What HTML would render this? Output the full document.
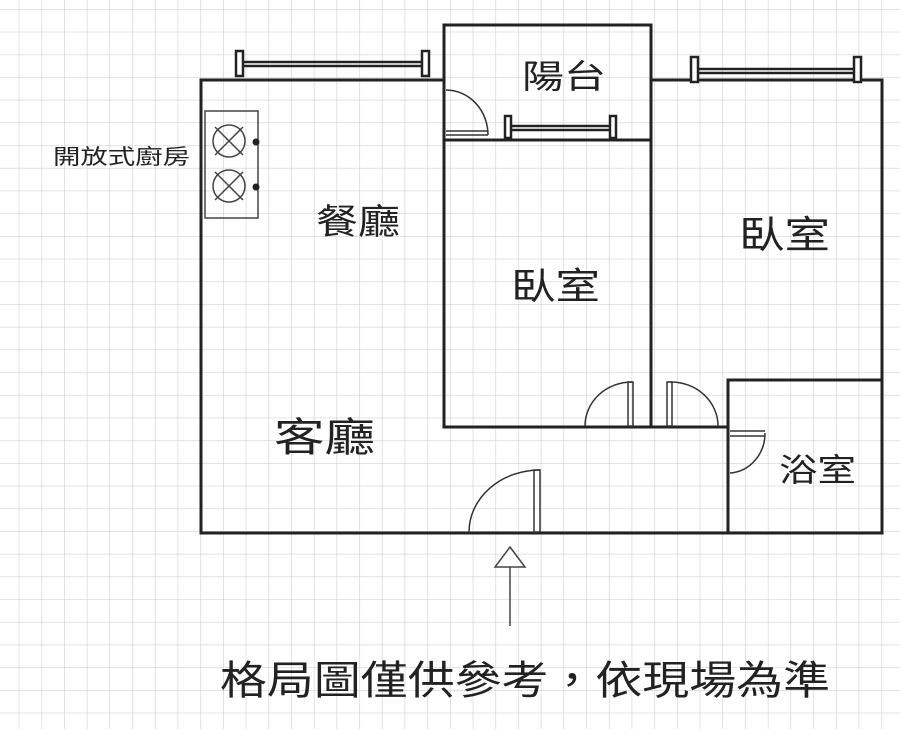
<!DOCTYPE html>
<html><head><meta charset="utf-8"><style>
html,body{margin:0;padding:0;background:#fff;}
svg{display:block;}
text{font-family:"Liberation Sans","Noto Sans CJK TC",sans-serif;fill:#222;}
</style></head><body>
<svg width="900" height="729" viewBox="0 0 900 729" xmlns="http://www.w3.org/2000/svg">
<defs>
<pattern id="g" x="18.7" y="9" width="22.7" height="22.7" patternUnits="userSpaceOnUse">
<path d="M0 0H22.7M0 0V22.7" stroke="#d2d2d2" stroke-width="1.3" fill="none"/>
</pattern>
</defs>
<rect width="900" height="729" fill="#fff"/>
<rect width="900" height="729" fill="url(#g)"/>
<g fill="none" stroke="#222" stroke-width="3" stroke-linecap="square">
<path d="M201 533V80H444"/>
<path d="M444 427V25H651V427"/>
<path d="M444 140H651"/>
<path d="M651 80H882V533H201"/>
<path d="M444 427H728"/>
<path d="M728 533V380H882"/>
</g>
<g fill="#fff" stroke="#222" stroke-width="2.5">
<path d="M243 62H422M243 66H422" fill="none"/>
<rect x="236" y="51" width="7" height="25"/>
<rect x="422" y="51" width="7" height="25"/>
<path d="M698 69H854M698 73H854" fill="none"/>
<rect x="691" y="57" width="7" height="25"/>
<rect x="854" y="57" width="7" height="25"/>
<path d="M511 126H610M511 130H610" fill="none"/>
<rect x="505" y="116" width="6" height="22"/>
<rect x="610" y="116" width="6" height="22"/>
</g>
<g fill="none" stroke="#333" stroke-width="1.5">
<path d="M446 90A42 45 0 0 1 488 135"/>
<path d="M446 135H488M446 131H488"/>
<path d="M585 426A47 44 0 0 1 632 382"/>
<rect x="628" y="382" width="5" height="44"/>
<path d="M670 382A47 44 0 0 1 718 426"/>
<rect x="667" y="382" width="5" height="44"/>
<path d="M730 431H765M730 436H765"/>
<path d="M765 433A37 40 0 0 1 730 473"/>
<path d="M469 532A71 62 0 0 1 540 470"/>
<rect x="534" y="470" width="6" height="62"/>
</g>
<g fill="none" stroke="#444" stroke-width="1.5">
<rect x="205" y="111" width="53" height="107"/>
<circle cx="229" cy="141" r="16"/>
<circle cx="229" cy="186" r="16"/>
<path d="M215 127L243 155M243 127L215 155M215 172L243 200M243 172L215 200"/>
</g>
<circle cx="256" cy="142" r="3.5" fill="#222"/>
<circle cx="256" cy="187" r="3.5" fill="#222"/>
<g fill="#fff" stroke="#444" stroke-width="1.5">
<path d="M510 547L525 567H495Z"/>
<path d="M510 567V626"/>
</g>
<text x="522" y="88" font-size="33" textLength="84" lengthAdjust="spacingAndGlyphs">陽台</text>
<text x="316" y="234" font-size="35" textLength="84" lengthAdjust="spacingAndGlyphs">餐廳</text>
<text x="511" y="299" font-size="37" textLength="89" lengthAdjust="spacingAndGlyphs">臥室</text>
<text x="739" y="248" font-size="38" textLength="91" lengthAdjust="spacingAndGlyphs">臥室</text>
<text x="274" y="451" font-size="40" textLength="101" lengthAdjust="spacingAndGlyphs">客廳</text>
<text x="779" y="481" font-size="32" textLength="77" lengthAdjust="spacingAndGlyphs">浴室</text>
<text x="53" y="164" font-size="21" textLength="137" lengthAdjust="spacingAndGlyphs">開放式廚房</text>
<text x="220" y="694" font-size="40" textLength="610" lengthAdjust="spacingAndGlyphs">格局圖僅供參考，依現場為準</text>
</svg>
</body></html>
